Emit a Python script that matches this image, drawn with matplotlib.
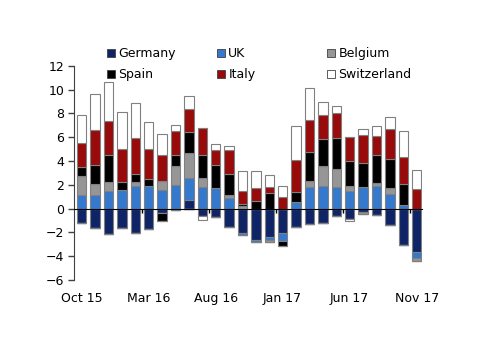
import numpy as np
import matplotlib.pyplot as plt
from matplotlib.patches import Patch

# ---- data ----
months = ["Oct 15", "Nov 15", "Dec 15", "Jan 16", "Feb 16", "Mar 16", "Apr 16", "May 16",
          "Jun 16", "Jul 16", "Aug 16", "Sep 16", "Oct 16", "Nov 16", "Dec 16", "Jan 17",
          "Feb 17", "Mar 17", "Apr 17", "May 17", "Jun 17", "Jul 17", "Aug 17", "Sep 17",
          "Oct 17", "Nov 17"]
germany = [-1.2, -1.6, -2.13, -1.6, -2.07, -1.68, -0.4, -0.1, 0.76, -0.64, -0.73, -1.57, -2.04,
           -2.6, -2.4, -2.04, -1.57, -1.26, -1.17, -0.62, -0.84, -0.25, -0.53, -1.37, -3.05, -3.66]
uk = [1.15, 1.15, 1.48, 1.54, 1.93, 1.93, 1.6, 1.99, 1.81, 1.82, 1.76, 0.87, -0.2,
      -0.2, -0.2, -0.65, 0.53, 1.85, 1.93, 1.82, 1.48, 1.85, 1.87, 1.26, 0.28, -0.53]
belgium = [1.56, 0.95, 0.73, 0.0, 0.34, 0.0, 0.69, 1.62, 2.07, 0.78, 0.0, 0.28, 0.2,
           0.0, -0.2, 0.0, 0.0, 0.47, 1.62, 1.48, 0.39, -0.2, 0.28, 0.5, 0.0, -0.19]
spain = [0.79, 1.54, 2.32, 0.7, 0.64, 0.59, -0.6, 0.92, 1.82, 1.88, 1.9, 1.79, 0.22,
         0.64, 1.34, -0.47, 0.9, 2.44, 2.3, 2.66, 2.16, 1.98, 2.35, 2.41, 1.76, 0.0]
italy = [2.04, 2.93, 2.85, 2.8, 2.99, 2.51, 2.24, 2.02, 1.93, 2.32, 1.29, 2.01, 1.1,
         1.09, 0.48, 0.98, 2.68, 2.71, 2.01, 2.07, 2.01, 2.38, 1.6, 2.52, 2.3, 1.68]
switzerland = [2.35, 3.08, 3.28, 3.08, 2.97, 2.27, 1.71, 0.5, 1.09, -0.28, 0.48, 0.28, 1.62,
               1.4, 0.98, 0.95, 2.86, 2.66, 1.14, 0.56, -0.22, 0.48, 0.84, 0.97, 2.18, 1.56]

labels = ["Germany", "UK", "Belgium", "Spain", "Italy", "Switzerland"]
colors = ["#0f2467", "#3479cd", "#969696", "#000000", "#990a0a", "#ffffff"]
series = [germany, uk, belgium, spain, italy, switzerland]
tick_idx = [0, 5, 10, 15, 20, 25]

plt.rcParams['font.family'] = ['DejaVu Sans']

fig = plt.figure(figsize=(5.0, 3.54), dpi=100)
ax = fig.add_axes([0.148, 0.209, 0.696, 0.605])

x = np.arange(len(months))
pos_base = np.zeros(len(months))
neg_base = np.zeros(len(months))
for vals, col, lab in zip(series, colors, labels):
    v = np.array(vals)
    pos = np.where(v > 0, v, 0)
    neg = np.where(v < 0, v, 0)
    ax.bar(x, pos, 0.7, bottom=pos_base, color=col, edgecolor="#808080", linewidth=0.8, zorder=2)
    ax.bar(x, neg, 0.7, bottom=neg_base, color=col, edgecolor="#808080", linewidth=0.8, zorder=2)
    pos_base += pos
    neg_base += neg

ax.set_ylim(-6, 12)
ax.set_xlim(-0.57, 25.4)
ax.set_yticks(range(-6, 13, 2))
ax.tick_params(axis='y', labelsize=9, length=4, width=1, color="#404040", pad=3)

for s in ["top", "right"]:
    ax.spines[s].set_visible(False)
ax.spines["left"].set_color("#404040")
ax.spines["bottom"].set_position(("data", 0))
ax.spines["bottom"].set_zorder(3)

# tick marks between months at the zero line, labels at the foot of the chart
ax.set_xticks([i - 0.5 for i in tick_idx[1:]], minor=True)
ax.tick_params(axis='x', which='minor', length=3, width=1, direction='out')
ax.set_xticks(tick_idx)
ax.set_xticklabels([months[i] for i in tick_idx])
ax.tick_params(axis='x', which='major', length=0, labelsize=9, pad=60)

# legend: three fixed-width columns, two rows each
handles = [Patch(facecolor=c, edgecolor="#404040", linewidth=0.6) for c in colors]
col_x = [0.214, 0.434, 0.654]
for k in range(3):
    leg = fig.legend([handles[k], handles[k + 3]], [labels[k], labels[k + 3]],
                     loc="center left", bbox_to_anchor=(col_x[k], 0.819), frameon=False,
                     fontsize=9, handlelength=0.6, handleheight=0.6, handletextpad=0.3,
                     labelspacing=0.62, borderpad=0, borderaxespad=0)

fig.savefig("out.png", dpi=100)
